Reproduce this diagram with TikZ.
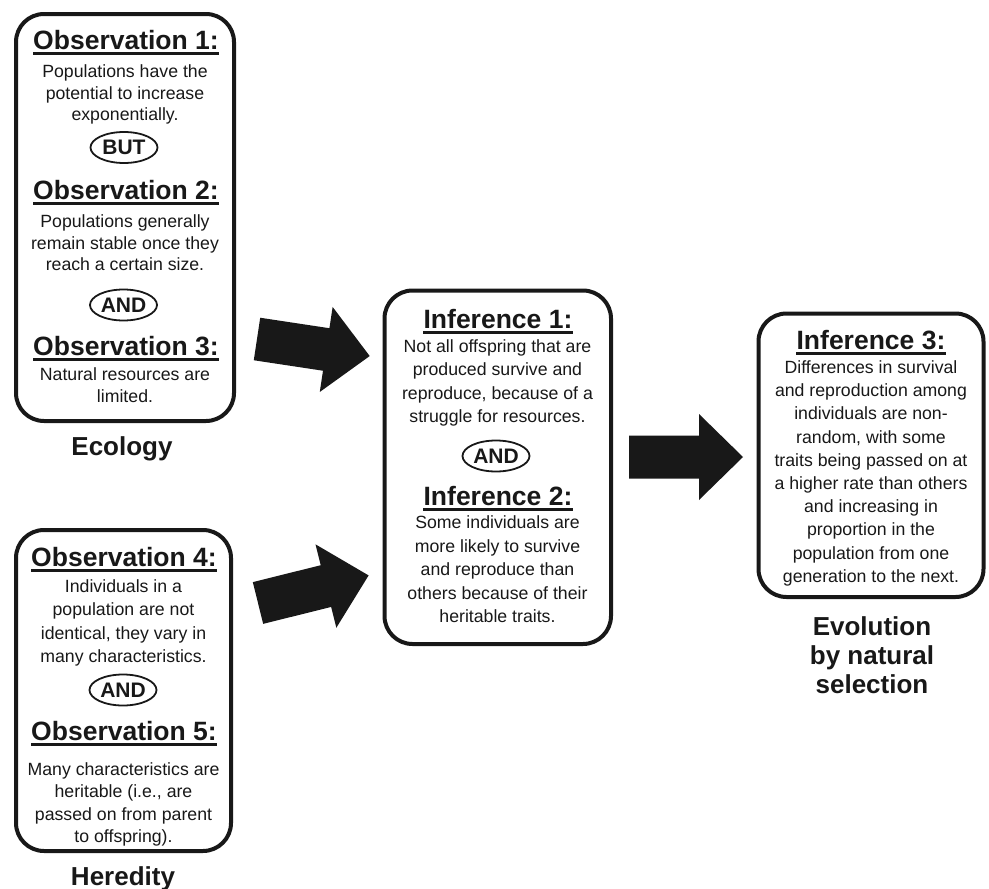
\documentclass[tikz,border=0pt]{standalone}
\usepackage{fontspec}
\setmainfont{Liberation Sans}
\usetikzlibrary{shapes.geometric}
\definecolor{ink}{RGB}{24,24,24}
\begin{document}
\begin{tikzpicture}[x=1pt,y=-1pt,
  box/.style={draw=ink, line width=4pt, rounded corners=28pt, inner sep=0pt},
  head/.style={font=\fontsize{26.5}{30}\selectfont\bfseries, text=ink, inner sep=0pt, anchor=base},
  body/.style={font=\fontsize{17.7}{#1}\selectfont, text=ink, inner sep=0pt, anchor=base, align=center},
  body/.default=23,
  label/.style={font=\fontsize{26}{29}\selectfont\bfseries, text=ink, inner sep=0pt, anchor=base, align=center},
  conj/.style={ellipse, draw=ink, line width=1.8pt, inner sep=0pt, minimum width=67pt, minimum height=31pt, font=\fontsize{21}{24}\selectfont\bfseries, text=ink},
  uline/.style={draw=ink, line width=2.8pt},
  pics/blockarrow/.style={code={\fill[ink] (0,21.5) -- (70,21.5) -- (70,43) -- (114,0) -- (70,-43) -- (70,-21.5) -- (0,-21.5) -- cycle;}}
]
\useasboundingbox (0,0) rectangle (989,889);

% boxes
\node[box, minimum width=218pt, minimum height=407pt] (eco) at (125,217.5) {};
\node[box, minimum width=215pt, minimum height=321pt] (her) at (123.5,690.5) {};
\node[box, minimum width=226.5pt, minimum height=353.5pt] (inf) at (497.75,467.25) {};
\node[box, minimum width=225pt, minimum height=283.5pt] (evo) at (871,455.25) {};

% Ecology box (body nodes are anchored at the baseline of their last line)
\node[head] (o1h) at (126,49) {Observation 1:};
\draw[uline] ([yshift=-4.5pt]o1h.base west) -- ([yshift=-4.5pt]o1h.base east);
\node[body=21.5] (o1t) at (125,120.5) {Populations have the\\potential to increase\\exponentially.};
\node[conj] (but) at (124,147.5) {BUT};
\node[head] (o2h) at (126,199) {Observation 2:};
\draw[uline] ([yshift=-4.5pt]o2h.base west) -- ([yshift=-4.5pt]o2h.base east);
\node[body=21.5] (o2t) at (125,270.5) {Populations generally\\remain stable once they\\reach a certain size.};
\node[conj] (and1) at (123.5,305) {AND};
\node[head] (o3h) at (126,355) {Observation 3:};
\draw[uline] ([yshift=-4.5pt]o3h.base west) -- ([yshift=-4.5pt]o3h.base east);
\node[body=22] (o3t) at (125,402.5) {Natural resources are\\limited.};
\node[label] (ecol) at (122,455) {Ecology};

% Heredity box
\node[head] (o4h) at (124,566) {Observation 4:};
\draw[uline] ([yshift=-4.5pt]o4h.base west) -- ([yshift=-4.5pt]o4h.base east);
\node[body=23.3] (o4t) at (123.5,662.4) {Individuals in a\\population are not\\identical, they vary in\\many characteristics.};
\node[conj] (and2) at (123,690) {AND};
\node[head] (o5h) at (124,740) {Observation 5:};
\draw[uline] ([yshift=-4.5pt]o5h.base west) -- ([yshift=-4.5pt]o5h.base east);
\node[body=22.3] (o5t) at (123.5,842.4) {Many characteristics are\\heritable (i.e., are\\passed on from parent\\to offspring).};
\node[label] (hered) at (123,885) {Heredity};

% Inference box
\node[head] (i1h) at (498,328) {Inference 1:};
\draw[uline] ([yshift=-4.5pt]i1h.base west) -- ([yshift=-4.5pt]i1h.base east);
\node[body=23.3] (i1t) at (497.5,422.4) {Not all offspring that are\\produced survive and\\reproduce, because of a\\struggle for resources.};
\node[conj] (and3) at (496,456) {AND};
\node[head] (i2h) at (498,505) {Inference 2:};
\draw[uline] ([yshift=-4.5pt]i2h.base west) -- ([yshift=-4.5pt]i2h.base east);
\node[body=23.5] (i2t) at (497.5,622.5) {Some individuals are\\more likely to survive\\and reproduce than\\others because of their\\heritable traits.};

% Evolution box
\node[head] (i3h) at (871,349) {Inference 3:};
\draw[uline] ([yshift=-4.5pt]i3h.base west) -- ([yshift=-4.5pt]i3h.base east);
\node[body=23.2] (i3t) at (871,582.3) {Differences in survival\\and reproduction among\\individuals are non-\\random, with some\\traits being passed on at\\a higher rate than others\\and increasing in\\proportion in the\\population from one\\generation to the next.};
\node[label] (evol) at (872,693) {Evolution\\by natural\\selection};

% block arrows
\coordinate (a1) at (257,339);
\coordinate (a2) at (258,603);
\coordinate (a3) at (629,457);
\pic[rotate=-8.6] at (a1) {blockarrow};
\pic[rotate=14] at (a2) {blockarrow};
\pic at (a3) {blockarrow};
\end{tikzpicture}
\end{document}
